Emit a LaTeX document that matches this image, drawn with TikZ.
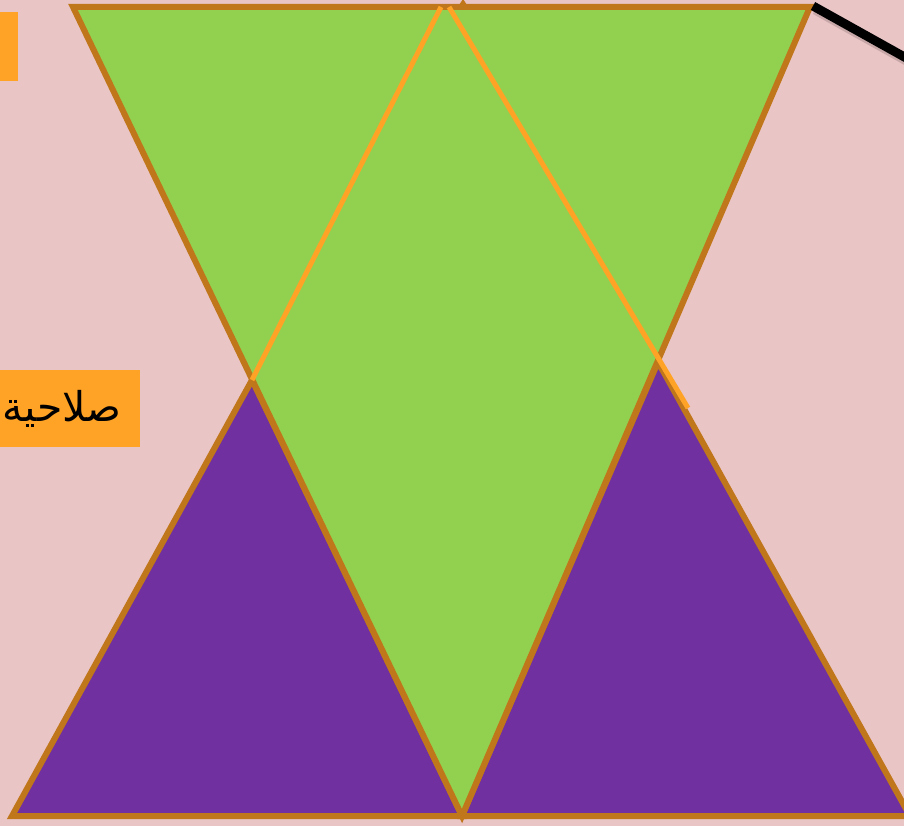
\documentclass[tikz,border=0pt]{standalone}
\usepackage{fontspec}
\newfontfamily\arabicfont[Script=Arabic]{DejaVu Sans}
\TeXXeTstate=1

\definecolor{bgpink}{RGB}{234,197,198}
\definecolor{leafgreen}{RGB}{146,208,80}
\definecolor{deeppurple}{RGB}{112,48,160}
\definecolor{rimorange}{RGB}{192,118,26}
\definecolor{lightorange}{RGB}{255,163,38}

\begin{document}
\begin{tikzpicture}[
  x=1pt, y=-1pt,
  tri/.style={
    draw=rimorange,
    line width=6pt
  },
  greentri/.style={tri, fill=leafgreen},
  purpletri/.style={tri, fill=deeppurple},
  guide/.style={draw=lightorange, line width=5pt},
  tag/.style={
    fill=lightorange,
    inner sep=0pt
  },
  pointer/.style={draw=black, line width=9pt}
]

\fill[bgpink] (0,0) rectangle (904,826);
\useasboundingbox (0,0) rectangle (904,826);

\begin{scope}
\clip (0,0) rectangle (904,826);

% corners of the shapes
\coordinate (gTL) at (73,7);
\coordinate (gTR) at (810,7);
\coordinate (gB) at (462,816);
\coordinate (lA) at (252,380);
\coordinate (lL) at (12,816);
\coordinate (rA) at (658,362);
\coordinate (rR) at (910,816);

\fill[rimorange] (457,8) -- (463,-1) -- (469,8) -- cycle;

\draw[purpletri] (lA) -- (lL) -- (gB) -- cycle;
\draw[purpletri] (rA) -- (gB) -- (rR) -- cycle;

\draw[greentri] (gTL) -- (gTR) -- (gB) -- cycle;

\draw[guide] (441,7) -- (lA);
\draw[guide] (449,7) -- (688,408);

\draw[line width=9pt, black, opacity=0.15] (815,10) -- (962,92);
\draw[pointer] (gTR) ++(3,-1) coordinate (pStart) -- (960,88);

\node[tag, anchor=north east, minimum width=60pt, minimum height=69pt] (topTag) at (18,12) {};

\node[tag, anchor=east, text width=170pt, align=right, inner xsep=18pt,
  minimum height=77pt, font=\fontsize{41}{46}\selectfont] (fitTag) at (140,408.5)
  {\arabicfont\beginR صلاحية\endR};
\end{scope}

\end{tikzpicture}
\end{document}
